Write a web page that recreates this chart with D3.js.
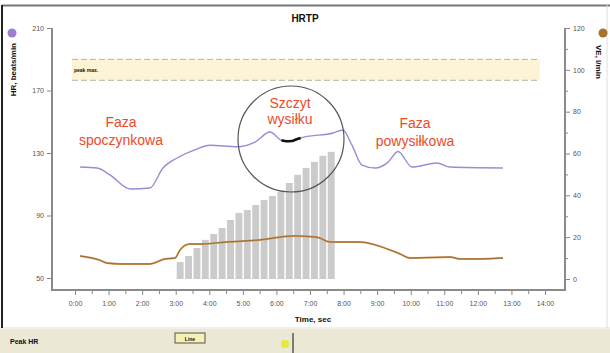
<!DOCTYPE html>
<html lang="pl">
<head>
<meta charset="utf-8">
<title>HRTP</title>
<script src="https://d3js.org/d3.v7.min.js"></script>
<style>
  body { margin: 0; background: #fff; }
  .tick text { font-family: "Liberation Sans", Arial, sans-serif; font-size: 7px; fill: #555; }
  .tick line { stroke: #888; }
  .lbl { font-family: "Liberation Sans", Arial, sans-serif; font-weight: bold; fill: #111; }
  .faza { font-family: "Liberation Sans", Arial, sans-serif; font-size: 14px; fill: #ee4a2a; text-anchor: middle; }
</style>
</head>
<body>
<div id="chart"></div>
<script>
// HR (beats/min) over time (min)
var hrTime  = [0.15, 0.66, 1.04, 1.64, 2.23, 2.62, 3.04, 3.57, 4.02, 4.83, 5.36, 5.81, 6.17, 6.46, 6.79, 7.69, 7.98, 8.25, 8.55, 8.94, 9.32, 9.62, 10.04, 10.78, 11.17, 12.75];
var hrValue = [121, 120.4, 116, 107, 107.6, 120.4, 126.8, 132, 135, 134, 137, 143.4, 138, 137.7, 140, 142.8, 144.7, 135, 122.3, 120.4, 124, 131, 121, 123.6, 121, 120.4];

// peak HR piece (drawn black)
var peakTime  = [6.15, 6.3, 6.46, 6.6, 6.72];
var peakValue = [138.2, 137.5, 137.7, 138.8, 139.6];

// VE (l/min) over time (min)
var veTime  = [0.15, 0.74, 0.95, 1.34, 2.23, 2.68, 2.98, 3.13, 3.42, 3.72, 4.53, 5.51, 6.5, 7.21, 7.6, 8.49, 8.94, 9.38, 9.68, 9.98, 11.17, 11.47, 12.06, 12.75];
var veValue = [11, 9, 7.6, 7.2, 7.2, 9.6, 10, 13.9, 16.7, 16.7, 17.7, 18.7, 20.6, 20, 17.7, 17.7, 16.3, 13.9, 12, 10, 10.5, 9.6, 9.6, 10];

// workload bars (start time of each 15 s step, value on VE axis)
var barTimes  = [3.0, 3.25, 3.5, 3.75, 4.0, 4.25, 4.5, 4.75, 5.0, 5.25, 5.5, 5.75, 6.0, 6.25, 6.5, 6.75, 7.0, 7.25, 7.5];
var barValues = [8.1, 11, 14.8, 18.7, 21.5, 24.4, 28.2, 31.6, 33, 35.4, 37.8, 39.7, 41.6, 45.9, 49.8, 53.1, 56, 58.9, 60.8];
var barWidth = 0.25;

var timeTicks = d3.range(0, 15);
var hrTicks = [50, 90, 130, 170, 210];
var veTicks = [0, 20, 40, 60, 80, 100, 120];
var peakBand = [95, 105];

var W = 610, H = 353;
var svg = d3.select("#chart").append("svg").attr("width", W).attr("height", H);

var x = d3.scaleLinear().domain([0, 14]).range([75, 545]);
var yHR = d3.scaleLinear().domain([50, 210]).range([278, 28]);
var yVE = d3.scaleLinear().domain([0, 120]).range([279, 28]);

// frame + bottom strip
svg.append("rect").attr("x", 0).attr("y", 328).attr("width", W).attr("height", 25).attr("fill", "#ebe8d6");
svg.append("line").attr("x1", 0).attr("x2", W).attr("y1", 328).attr("y2", 328).attr("stroke", "#f3f1e6").attr("stroke-width", 2);
svg.append("line").attr("x1", 2).attr("x2", W).attr("y1", 5.5).attr("y2", 5.5).attr("stroke", "#777").attr("stroke-width", 2);
svg.append("line").attr("x1", 2).attr("x2", 2).attr("y1", 5).attr("y2", 328).attr("stroke", "#222").attr("stroke-width", 2);
svg.append("line").attr("x1", 607).attr("x2", 607).attr("y1", 5).attr("y2", 328).attr("stroke", "#ddd").attr("stroke-width", 1);

// title
svg.append("text").attr("class", "lbl").attr("x", 305).attr("y", 22).attr("text-anchor", "middle").style("font-size", "10px").text("HRTP");

// peak band
svg.append("rect").attr("x", 72).attr("width", 468)
  .attr("y", yVE(peakBand[1])).attr("height", yVE(peakBand[0]) - yVE(peakBand[1]))
  .attr("fill", "#fdf4d6");
peakBand.forEach(function(v) {
  svg.append("line").attr("x1", 72).attr("x2", 540).attr("y1", yVE(v)).attr("y2", yVE(v))
    .attr("stroke", "#b8b0a0").attr("stroke-width", 1).attr("stroke-dasharray", "6,3");
});
svg.append("text").attr("class", "lbl").attr("x", 74).attr("y", yVE(100) + 2).style("font-size", "5px").text("peak max.");

// bars
svg.selectAll("rect.bar").data(barValues).enter().append("rect").attr("class", "bar")
  .attr("x", function(d, i) { return x(barTimes[i]) + 1; })
  .attr("width", function(d, i) { return x(barTimes[i] + barWidth) - x(barTimes[i]) - 1.5; })
  .attr("y", function(d) { return yVE(d); })
  .attr("height", function(d) { return yVE(0) - yVE(d); })
  .attr("fill", "#cbcbcb");

// lines
var hrLine = d3.line().x(function(d, i) { return x(hrTime[i]); }).y(function(d) { return yHR(d); }).curve(d3.curveMonotoneX);
var veLine = d3.line().x(function(d, i) { return x(veTime[i]); }).y(function(d) { return yVE(d); }).curve(d3.curveMonotoneX);
var pkLine = d3.line().x(function(d, i) { return x(peakTime[i]); }).y(function(d) { return yHR(d); }).curve(d3.curveMonotoneX);

svg.append("path").attr("d", veLine(veValue)).attr("fill", "none").attr("stroke", "#d39a5a").attr("stroke-width", 2);
svg.append("path").attr("d", veLine(veValue)).attr("fill", "none").attr("stroke", "#7d5428").attr("stroke-width", 0.7);
svg.append("path").attr("d", hrLine(hrValue)).attr("fill", "none").attr("stroke", "#9a8cd2").attr("stroke-width", 1.4);
svg.append("path").attr("d", pkLine(peakValue)).attr("fill", "none").attr("stroke", "#111").attr("stroke-width", 2.6);

// circle around the peak
svg.append("circle").attr("cx", 291).attr("cy", 139).attr("r", 53).attr("fill", "none").attr("stroke", "#555").attr("stroke-width", 1.2);

// phase labels
svg.append("text").attr("class", "faza").attr("x", 121).attr("y", 127).text("Faza");
svg.append("text").attr("class", "faza").attr("x", 121).attr("y", 145).text("spoczynkowa");
svg.append("text").attr("class", "faza").attr("x", 290).attr("y", 108).text("Szczyt");
svg.append("text").attr("class", "faza").attr("x", 290).attr("y", 124).text("wysiłku");
svg.append("text").attr("class", "faza").attr("x", 415).attr("y", 128).text("Faza");
svg.append("text").attr("class", "faza").attr("x", 415).attr("y", 146).text("powysiłkowa");

// axes frame
svg.append("path").attr("d", "M52,28 V290 H565 V28").attr("fill", "none").attr("stroke", "#8a8a8a").attr("stroke-width", 2);

var gL = svg.append("g").attr("transform", "translate(51,0)")
  .call(d3.axisLeft(yHR).tickValues(hrTicks).tickSize(4).tickPadding(3));
var gR = svg.append("g").attr("transform", "translate(566,0)")
  .call(d3.axisRight(yVE).tickValues(veTicks).tickSize(4).tickPadding(3));
var gRm = svg.append("g").attr("transform", "translate(566,0)")
  .call(d3.axisRight(yVE).tickValues([10, 30, 50, 70, 90, 110]).tickSize(2).tickFormat(""));
var gB = svg.append("g").attr("transform", "translate(0,291)")
  .call(d3.axisBottom(x).tickValues(timeTicks).tickSize(4).tickPadding(6).tickFormat(function(d) { return d + ":00"; }));
var gBm = svg.append("g").attr("transform", "translate(0,291)")
  .call(d3.axisBottom(x).tickValues(d3.range(0.5, 14, 1)).tickSize(3).tickFormat(""));
[gL, gR, gRm, gB, gBm].forEach(function(g) { g.select(".domain").remove(); });

// axis titles
svg.append("text").attr("class", "lbl").attr("x", 313).attr("y", 322).attr("text-anchor", "middle").style("font-size", "8px").text("Time, sec");
svg.append("text").attr("class", "lbl").attr("transform", "translate(16,43) rotate(-90)").attr("text-anchor", "end").style("font-size", "8px").text("HR, beats/min");
svg.append("circle").attr("cx", 12).attr("cy", 33).attr("r", 4.5).attr("fill", "#9b7fd0");
svg.append("text").attr("class", "lbl").attr("transform", "translate(596,45) rotate(90)").attr("text-anchor", "start").style("font-size", "8px").text("VE, l/min");
svg.append("circle").attr("cx", 603).attr("cy", 33).attr("r", 4.5).attr("fill", "#a8742c");

// bottom strip controls
svg.append("text").attr("class", "lbl").attr("x", 10).attr("y", 344).style("font-size", "7px").text("Peak HR");
svg.append("rect").attr("x", 175).attr("y", 333).attr("width", 30).attr("height", 10).attr("fill", "#f6f0b4").attr("stroke", "#555").attr("stroke-width", 1);
svg.append("text").attr("class", "lbl").attr("x", 190).attr("y", 340.5).attr("text-anchor", "middle").style("font-size", "5px").text("Line");
svg.append("circle").attr("cx", 285).attr("cy", 344).attr("r", 4).attr("fill", "#e4e93a");
svg.append("line").attr("x1", 293).attr("x2", 293).attr("y1", 333).attr("y2", 353).attr("stroke", "#333").attr("stroke-width", 1.2);
</script>
</body>
</html>
